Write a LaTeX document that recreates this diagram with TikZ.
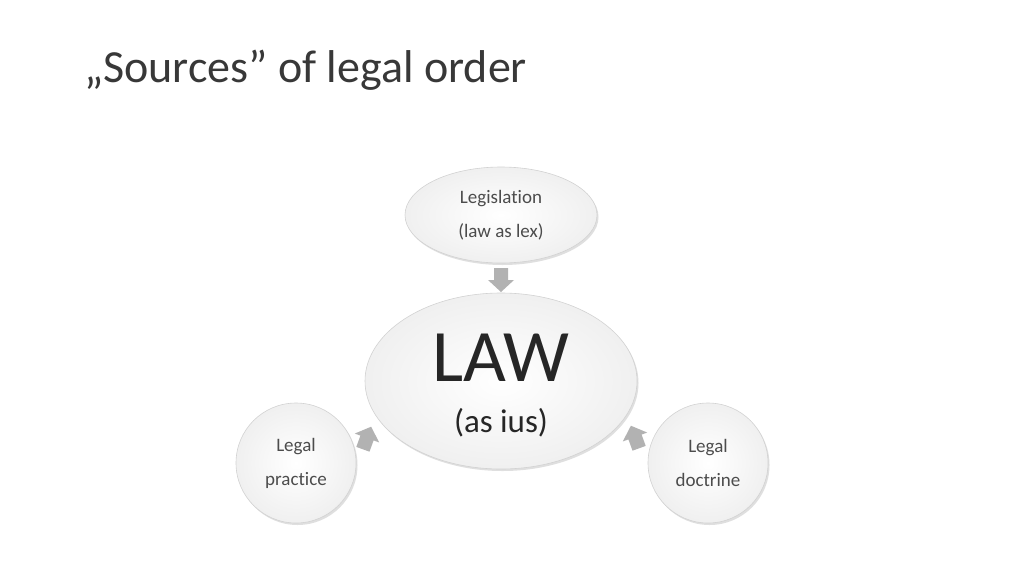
\documentclass[tikz,border=0pt]{standalone}
\usepackage{fontspec}
\setmainfont[RawFeature=-liga]{Carlito}
\usetikzlibrary{shadows}
\begin{document}
\begin{tikzpicture}[x=1pt,y=-1pt,
  bub/.style={draw=gray!35,line width=0.6pt,inner color=white,outer color=gray!12,
    drop shadow={shadow xshift=1.5pt,shadow yshift=-2pt,opacity=0.25}},
  barrow/.style={fill=gray!60,draw=none},
  small/.style={align=center,font=\fontsize{19}{34}\selectfont,text=black!70}]
\useasboundingbox[fill=white] (0,0) rectangle (1024,576);
\node[anchor=base west,font=\fontsize{46}{50}\selectfont,text=black!78,inner sep=0pt] (title) at (84,82) {„Sources” of legal order};
\path[bub] (501,215) ellipse [x radius=96,y radius=48];
\node[small] (leg) at (501,215) {Legislation\\(law as lex)};
\path[bub] (501,381) ellipse [x radius=136,y radius=88];
\node[text=black!85,font=\fontsize{74}{74}\selectfont,inner sep=0pt] (law) at (501,358) {LAW};
\node[text=black!85,font=\fontsize{33}{36}\selectfont,inner sep=0pt] (ius) at (501,423) {(as ius)};
\path[bub] (296,463) circle [radius=60];
\node[small] (prac) at (296,463) {Legal\\practice};
\path[bub] (708,463) circle [radius=60];
\node[small] (doc) at (708,463) {Legal\\doctrine};
% block arrows
\def\blockarrow{(-7,-12) -- (7,-12) -- (7,0) -- (13,0) -- (0,12) -- (-13,0) -- (-7,0) -- cycle}
\fill[barrow,shift={(501,280)}] \blockarrow;
\fill[barrow,shift={(367,438)},rotate=160] \blockarrow;
\fill[barrow,shift={(635,437)},rotate=-160] \blockarrow;
\end{tikzpicture}
\end{document}
